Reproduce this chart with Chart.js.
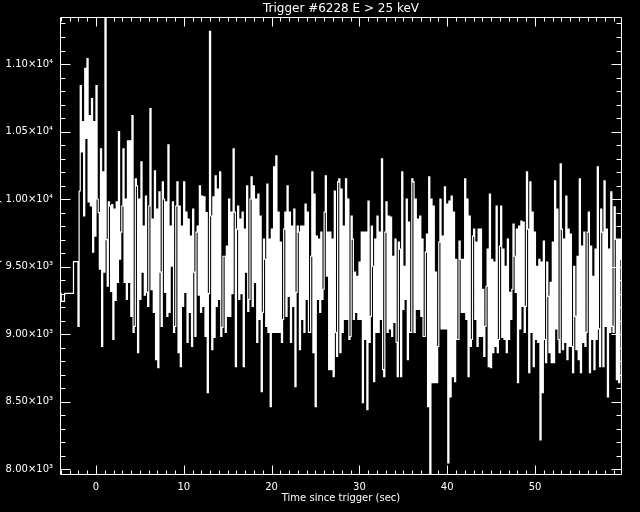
<!DOCTYPE html>
<html>
<head>
<meta charset="utf-8">
<script src="https://cdn.jsdelivr.net/npm/chart.js@4"></script>
<style>
  html, body { margin: 0; padding: 0; background: #000; }
</style>
</head>
<body>
<canvas id="lc" width="640" height="512"></canvas>
<script>
// Pre-trigger (coarse) bins: start times and rates
const preTimes = [-4.096, -3.95, -3.584, -3.072, -2.56];
const preRates = [9302, 9243, 9302, 9302, 9538];

// fast bins from -2.048 s, 0.128 s each
const binStart = -2.048;
const binWidth = 0.128;

const ratesM2 = [9058, 10060, 10841, 10350, 10573, 9875, 10967, 10450, 11041, 9979, 10618, 9950, 10744, 9607, 10573, 9726];
const rates00 = [10841, 10001, 9900, 9481, 10372, 8909, 10202, 9459, 11348, 9700, 9355, 9979, 9950, 9317, 9960, 8961,
  9927, 9250, 9979, 9384, 10499, 9555, 9756, 9949, 10372, 9384, 10001, 9258, 10432, 9384, 10432, 9132,
  10618, 9013, 9058, 10150, 10098, 8864, 10001, 9258, 10276, 9459, 9800, 9290, 10023, 9310, 9206, 9949,
  10670, 9330, 9852, 9161, 10209, 8812, 9927, 8753, 10053, 9459, 9058, 10127, 10001, 9310, 9979, 9132,
  10402, 9161, 9800, 9503, 9979, 9013, 9058, 9949, 10127, 8864, 9949, 8760, 9800, 9206];
const rates10 = [10127, 9310, 9904, 8939, 9852, 9161, 9726, 8909, 9927, 9459, 8983, 9756, 9800, 9290, 10098, 9161,
  10023, 9206, 10016, 8983, 9900, 8567, 9300, 11242, 9875, 8886, 10016, 8976, 10172, 9206, 10075, 9258,
  10202, 8983, 9050, 9577, 9577, 9013, 9652, 9132, 10001, 9132, 9904, 9300, 10372, 9904, 8760, 9778,
  9949, 9258, 9852, 9300, 9904, 8760, 9778, 9459, 10098, 9169, 9258, 10001, 10164, 9206, 10098, 9384,
  10001, 8939, 10038, 9109, 9875, 8575, 9161, 9704, 9555, 9058, 10112, 9013, 9704, 8463];
const rates20 = [9778, 9013, 10239, 9013, 10321, 9013, 9904, 9013, 9681, 8939, 9109, 9778, 9904, 9132, 10098, 9280,
  9904, 8939, 9800, 9206, 9927, 8612, 9310, 9800, 9756, 8886, 9800, 9109, 9800, 9013, 9964, 9258,
  9904, 9013, 9013, 9577, 10202, 8864, 10038, 8463, 9726, 9258, 9704, 9161, 9756, 9258, 9333, 9904,
  10172, 9429, 9756, 8738, 9756, 8738, 9704, 8686, 10060, 9013, 8835, 10127, 10150, 8864, 10075, 9013,
  9800, 9109, 10150, 9109, 10001, 8961, 8983, 9875, 9704, 9109, 9459, 9161, 9429, 9109];
const rates30 = [9533, 9109, 9756, 8493, 9756, 8961, 9756, 8441, 9986, 8939, 9132, 9800, 9503, 8649, 9704, 9013,
  9875, 9013, 9756, 9109, 10298, 8738, 8686, 9756, 9979, 9013, 9875, 9040, 9867, 8983, 9577, 9087,
  9704, 8939, 8686, 9681, 9630, 8686, 10202, 9184, 9503, 9258, 10001, 8812, 9830, 9013, 9013, 10150,
  10127, 9013, 10001, 9184, 9852, 9184, 9875, 9132, 9704, 8983, 8983, 9607, 9741, 8463, 10164, 7958,
  10001, 8641, 9949, 8641, 9459, 8641, 8909, 9681, 10001, 9040, 9726, 9040, 10090, 9040];
const rates40 = [9964, 8047, 9986, 8537, 10023, 8686, 9904, 8649, 9555, 8961, 8961, 9689, 9555, 9161, 9555, 9161,
  10150, 9109, 10001, 8686, 9875, 8909, 8961, 9726, 9778, 9109, 9681, 8909, 9778, 8983, 9778, 8983,
  9332, 8835, 9058, 9355, 9630, 8760, 10038, 8753, 9555, 8864, 9533, 8909, 9949, 8864, 8961, 9652,
  9949, 8976, 9630, 8961, 9503, 8864, 9704, 8961, 9310, 9109, 9333, 9815, 9577, 9310, 9778, 8641,
  9800, 9040, 9838, 9206, 9830, 9013, 9206, 10202, 9778, 8716, 10127, 9013, 9904, 8760];
const rates50 = [9756, 8961, 9503, 8939, 9555, 8218, 9533, 8567, 9689, 8961, 8790, 9533, 9280, 8864, 9384, 8790,
  9681, 8790, 10135, 9040, 9927, 8961, 8864, 10261, 9778, 8886, 9704, 8939, 10023, 8812, 9778, 8909,
  9741, 8909, 8716, 9503, 9132, 8886, 9577, 8812, 10150, 8716, 9652, 8939, 9756, 8909, 9013, 9756,
  9904, 8716, 9652, 8961, 9429, 8738, 9630, 8961, 10239, 9040, 8760, 9927, 9756, 8760, 10135, 9058,
  9778, 8537, 9630, 9013, 10053, 9058, 9013, 9942, 9704, 8664, 9704, 8641, 9704, 9555];

// axis ticks
const xTicks = [0, 10, 20, 30, 40, 50];
const yTicks = [8000, 8500, 9000, 9500, 10000, 10500, 11000];

const fastRates = [].concat(ratesM2, rates00, rates10, rates20, rates30, rates40, rates50);
const points = preTimes.map((t, i) => ({ x: t, y: preRates[i] }));
fastRates.forEach((r, i) => points.push({ x: binStart + i * binWidth, y: r }));
// close the last bin
points.push({ x: binStart + fastRates.length * binWidth, y: fastRates[fastRates.length - 1] });

function yLabel(v) {
  if (v >= 10000) return (v / 10000).toFixed(2) + '×10⁴';
  return (v / 1000).toFixed(2) + '×10³';
}

// IDL style frame: box, inward ticks on all sides, titles
const idlFrame = {
  id: 'idlFrame',
  beforeDraw(chart) {
    const ctx = chart.ctx;
    ctx.save();
    ctx.fillStyle = '#000';
    ctx.fillRect(0, 0, chart.width, chart.height);
    ctx.restore();
  },
  afterDraw(chart) {
    const { ctx, chartArea: a, scales: { x, y } } = chart;
    const L = a.left + 0.5, R = a.right - 0.5, T = a.top + 0.5, B = a.bottom - 0.5;
    ctx.save();
    ctx.strokeStyle = '#fff';
    ctx.lineWidth = 1;
    ctx.beginPath();
    ctx.rect(L, T, R - L, B - T);
    for (let v = 8000; v <= y.max; v += 100) {
      const py = Math.round(y.getPixelForValue(v)) + 0.5;
      const len = v % 500 === 0 ? 10 : 5;
      ctx.moveTo(L, py); ctx.lineTo(L + len, py);
      ctx.moveTo(R, py); ctx.lineTo(R - len, py);
    }
    for (let t = -4; t <= 59; t++) {
      const px = Math.round(x.getPixelForValue(t)) + 0.5;
      const len = t % 10 === 0 ? 9 : 4;
      ctx.moveTo(px, B); ctx.lineTo(px, B - len);
      ctx.moveTo(px, T); ctx.lineTo(px, T + len);
    }
    ctx.stroke();

    ctx.fillStyle = '#fff';
    ctx.font = '12px "DejaVu Sans"';
    ctx.textAlign = 'center';
    ctx.textBaseline = 'alphabetic';
    ctx.fillText('Trigger #6228 E > 25 keV', (a.left + a.right) / 2, 12);

    // y title, mostly off the left edge as in the original
    ctx.font = '11px "DejaVu Sans"';
    ctx.translate(0, 246);
    ctx.rotate(-Math.PI / 2);
    ctx.fillText('Rate (counts s⁻¹)', 0, 0);
    ctx.restore();
  }
};

new Chart(document.getElementById('lc'), {
  type: 'line',
  data: {
    datasets: [{
      data: points,
      borderColor: '#fff',
      borderWidth: 1.2,
      pointRadius: 0,
      stepped: true,
      fill: false,
      tension: 0
    }]
  },
  options: {
    responsive: false,
    animation: false,
    devicePixelRatio: 1,
    layout: { padding: { top: 17, right: 18, left: 0, bottom: 0 } },
    plugins: { legend: { display: false }, tooltip: { enabled: false }, title: { display: false } },
    scales: {
      x: {
        type: 'linear',
        min: -4.096,
        max: 59.904,
        grid: { display: false, drawTicks: false },
        border: { display: false },
        afterBuildTicks: (axis) => { axis.ticks = xTicks.map(v => ({ value: v })); },
        afterFit: (axis) => { axis.height = 37; },
        ticks: { color: '#fff', font: { family: 'DejaVu Sans', size: 10 }, padding: 6, maxRotation: 0, autoSkip: false },
        title: {
          display: true,
          text: 'Time since trigger (sec)',
          color: '#fff',
          font: { family: 'DejaVu Sans', size: 10 },
          padding: { top: 0, bottom: 8 }
        }
      },
      y: {
        min: 7958,
        max: 11348,
        grid: { display: false, drawTicks: false },
        border: { display: false },
        afterBuildTicks: (axis) => { axis.ticks = yTicks.map(v => ({ value: v })); },
        afterFit: (axis) => { axis.width = 60; },
        ticks: { color: '#fff', font: { family: 'DejaVu Sans', size: 10 }, padding: 7, callback: (v) => yLabel(v) }
      }
    }
  },
  plugins: [idlFrame]
});
</script>
</body>
</html>
